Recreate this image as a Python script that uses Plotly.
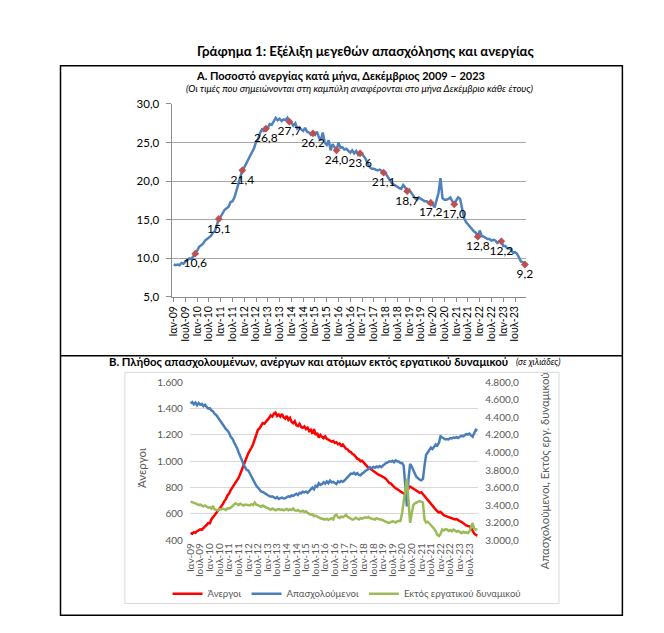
import plotly.graph_objects as go

W, H = 664, 633


def px(x):
    return x / W


def py(y):
    return 1 - y / H


# ---------------- data ----------------
years = list(range(2009, 2024))
tick_labels = []
for yy in years:
    tick_labels += ["Ιαν-%02d" % (yy % 100), "Ιουλ-%02d" % (yy % 100)]

# Panel A: unemployment rate (%), monthly Jan 2009 - Dec 2023
unemp_rate = [
    9.2, 9.1, 9.2, 9.1, 9.4, 9.3, 9.6, 9.8, 10.0, 9.9, 10.2, 10.6,
    11.0, 11.5, 11.7, 11.9, 12.3, 12.5, 12.7, 12.9, 13.3, 13.5, 14.3, 15.1,
    15.4, 15.9, 16.3, 16.5, 16.7, 17.3, 17.4, 17.9, 18.8, 19.6, 20.4, 21.4,
    21.8, 22.3, 22.9, 23.3, 23.7, 24.3, 25.1, 25.4, 26.2, 26.7, 26.5, 26.8,
    26.9, 27.4, 27.3, 27.8, 28.2, 27.9, 28.1, 27.8, 28.0, 27.9, 28.2, 27.7,
    27.6, 27.2, 27.5, 26.8, 27.0, 26.7, 26.5, 26.9, 26.4, 26.3, 26.0, 26.2,
    26.0, 26.4, 25.7, 25.3, 26.3, 25.0, 24.7, 25.3, 24.0, 24.8, 24.3, 24.0,
    25.0, 24.3, 24.4, 24.1, 24.2, 23.9, 23.7, 24.0, 23.6, 23.9, 23.4, 23.6,
    23.5, 23.2, 22.8, 22.2, 21.8, 21.6, 21.6, 21.5, 21.4, 21.5, 21.3, 21.1,
    21.0, 20.6, 20.1, 19.8, 19.6, 19.4, 19.3, 19.1, 19.0, 19.5, 19.2, 18.7,
    18.9, 18.5, 18.2, 17.8, 17.6, 17.9, 17.7, 17.5, 17.4, 17.4, 17.1, 17.2,
    17.0, 16.6, 17.4, 18.5, 20.4, 17.8, 17.6, 17.6, 17.7, 17.9, 17.4, 17.0,
    17.5, 17.9, 17.7, 16.5, 15.2, 14.7, 14.4, 14.0, 13.7, 13.5, 13.3, 12.8,
    13.6, 12.9, 12.8, 12.6, 12.5, 12.5, 12.3, 12.4, 12.3, 12.0, 12.2, 12.2,
    11.6, 11.6, 11.3, 11.3, 11.1, 10.7, 10.8, 10.6, 10.0, 9.6, 9.5, 9.2,
]

# Panel B (thousands)
unemployed = [
    455, 448, 460, 456, 468, 475, 482, 478, 495, 505, 515, 530,
    528, 560, 575, 590, 605, 620, 640, 655, 672, 695, 712, 740,
    755, 780, 800, 812, 830, 850, 875, 905, 940, 975, 1000, 1030,
    1060, 1090, 1105, 1130, 1170, 1210, 1240, 1250, 1275, 1290, 1285, 1300,
    1310, 1330, 1350, 1340, 1362, 1370, 1345, 1355, 1340, 1360, 1335, 1325,
    1345, 1315, 1330, 1300, 1290, 1305, 1275, 1268, 1285, 1260, 1255, 1265,
    1245, 1255, 1230, 1240, 1210, 1245, 1200, 1215, 1180, 1200, 1185, 1175,
    1190, 1170, 1165, 1160, 1150, 1155, 1140, 1145, 1130, 1135, 1118, 1128,
    1110, 1095, 1090, 1075, 1070, 1055, 1050, 1035, 1020, 1015, 1000, 1004,
    990, 975, 960, 950, 945, 935, 930, 920, 905, 900, 895, 890,
    885, 875, 865, 850, 835, 830, 815, 805, 795, 790, 780, 770,
    765, 755, 740, 770, 795, 808, 800, 790, 785, 775, 770, 760,
    765, 750, 735, 718, 705, 690, 670, 655, 640, 632, 620, 610,
    615, 600, 590, 585, 580, 575, 570, 565, 560, 557, 560, 550,
    545, 540, 530, 520, 512, 508, 505, 495, 470, 450, 440, 435,
]

employed = [
    4560, 4575, 4550, 4570, 4540, 4565, 4545, 4555, 4530, 4545, 4520, 4500,
    4505, 4480, 4470, 4440, 4428, 4400, 4380, 4350, 4330, 4300, 4270, 4250,
    4224, 4180, 4160, 4120, 4092, 4050, 4000, 3950, 3900, 3870, 3830, 3800,
    3795, 3760, 3720, 3680, 3650, 3620, 3600, 3570, 3555, 3550, 3535, 3530,
    3515, 3505, 3495, 3500, 3485, 3477, 3490, 3470, 3480, 3485, 3475, 3477,
    3490, 3500, 3495, 3510, 3505, 3520, 3530, 3515, 3540, 3535, 3552, 3545,
    3555, 3540, 3560, 3575, 3600, 3580, 3620, 3610, 3650, 3630, 3640, 3660,
    3645, 3670, 3650, 3680, 3660, 3665, 3650, 3640, 3670, 3660, 3675, 3665,
    3680, 3700, 3720, 3740, 3760, 3756, 3770, 3750, 3765, 3745, 3740, 3760,
    3770, 3790, 3800, 3810, 3832, 3820, 3835, 3825, 3840, 3832, 3845, 3832,
    3850, 3870, 3880, 3888, 3900, 3895, 3906, 3890, 3910, 3900, 3895, 3880,
    3880, 3850, 3650, 3384, 3700, 3869, 3840, 3790, 3757, 3720, 3700, 3690,
    3682, 3700, 3850, 3975, 4000, 4030, 4056, 4040, 4075, 4092, 4080, 4110,
    4186, 4175, 4160, 4149, 4155, 4150, 4165, 4160, 4170, 4167, 4175, 4165,
    4180, 4190, 4185, 4200, 4210, 4205, 4215, 4195, 4180, 4220, 4260, 4250,
]

inactive = [
    3440, 3435, 3425, 3420, 3410, 3400, 3405, 3390, 3385, 3395, 3380, 3370,
    3375, 3360, 3390, 3350, 3345, 3340, 3355, 3350, 3360, 3355, 3345, 3365,
    3360, 3370, 3385, 3400, 3421, 3410, 3400, 3415, 3400, 3395, 3405, 3400,
    3403, 3395, 3410, 3400, 3430, 3405, 3400, 3390, 3380, 3395, 3385, 3370,
    3365, 3350, 3347, 3360, 3345, 3340, 3350, 3355, 3345, 3350, 3340, 3347,
    3355, 3340, 3350, 3345, 3360, 3340, 3335, 3345, 3330, 3328, 3335, 3320,
    3330, 3310, 3300, 3290, 3295, 3272, 3280, 3265, 3260, 3250, 3245, 3240,
    3235, 3245, 3230, 3240, 3250, 3235, 3280, 3291, 3260, 3253, 3270, 3260,
    3272, 3290, 3265, 3250, 3245, 3235, 3240, 3255, 3245, 3235, 3250, 3245,
    3253, 3260, 3255, 3265, 3250, 3245, 3240, 3235, 3250, 3240, 3235, 3235,
    3225, 3215, 3210, 3200, 3197, 3205, 3215, 3210, 3200, 3215, 3216, 3220,
    3309, 3450, 3600, 3700, 3450, 3197, 3300, 3400, 3421, 3430, 3440, 3445,
    3440, 3430, 3235, 3200, 3210, 3190, 3179, 3150, 3130, 3100, 3060, 3047,
    3070, 3122, 3110, 3125, 3122, 3105, 3115, 3100, 3120, 3110, 3095, 3105,
    3090, 3080, 3095, 3085, 3090, 3080, 3100, 3160, 3197, 3130, 3120, 3125,
]

months = list(range(len(unemp_rate)))
dec_idx = months[11::12]
dec_vals = [unemp_rate[i] for i in dec_idx]
tick_pos = months[::6]

FONT = "Lato, 'Noto Sans', sans-serif"
GRAY = "#595959"

fig = go.Figure()

# ---- Panel A ----
fig.add_trace(go.Scatter(
    x=months, y=unemp_rate, mode="lines",
    line=dict(color="#4F81BD", width=2.5),
    xaxis="x", yaxis="y", showlegend=False, hoverinfo="skip"))
fig.add_trace(go.Scatter(
    x=dec_idx, y=dec_vals, mode="markers+text",
    marker=dict(symbol="diamond", size=6, color="#C0504D"),
    texttemplate="%{y:.1f}", textposition="bottom center",
    textfont=dict(family=FONT, size=12, color="#000000"),
    cliponaxis=False,
    xaxis="x", yaxis="y", showlegend=False, hoverinfo="skip"))

# ---- Panel B ----
fig.add_trace(go.Scatter(
    x=months, y=unemployed, mode="lines", name="Άνεργοι",
    line=dict(color="#FF0000", width=2.5), xaxis="x2", yaxis="y2"))
fig.add_trace(go.Scatter(
    x=months, y=employed, mode="lines", name="Απασχολούμενοι",
    line=dict(color="#4A7EBB", width=2.5), xaxis="x2", yaxis="y3"))
fig.add_trace(go.Scatter(
    x=months, y=inactive, mode="lines", name="Εκτός εργατικού δυναμικού",
    line=dict(color="#9BBB59", width=2.5), xaxis="x2", yaxis="y3"))

annotations = [
    dict(text="<b>Γράφημα 1: Εξέλιξη μεγεθών απασχόλησης και ανεργίας</b>",
         x=px(363), y=py(45), font=dict(size=13.3, color="#000")),
    dict(text="<b>Α. Ποσοστό ανεργίας κατά μήνα, Δεκέμβριος 2009 – 2023</b>",
         x=px(338), y=py(70), font=dict(size=11, color="#000")),
    dict(text="<i>(Οι τιμές που σημειώνονται στη καμπύλη αναφέρονται στο μήνα Δεκέμβριο κάθε έτους)</i>",
         x=px(357), y=py(83), font=dict(size=9.6, color="#000")),
    dict(text="<b>Β. Πλήθος απασχολουμένων, ανέργων και ατόμων εκτός εργατικού δυναμικού</b>",
         x=px(102), y=py(362), xanchor="left", font=dict(size=11.3, color="#000")),
    dict(text="<i>(σε χιλιάδες)</i>",
         x=px(513), y=py(362), xanchor="left", font=dict(size=8.8, color="#000")),
    dict(text="Άνεργοι", x=px(137), y=py(470), textangle=-90,
         font=dict(size=11.5, color=GRAY)),
    dict(text="Απασχολούμενοι, Εκτός εργ. δυναμικού", x=px(543), y=py(474),
         textangle=-90, font=dict(size=11.3, color=GRAY)),
]
for a in annotations:
    a.update(xref="paper", yref="paper", showarrow=False)
    a.setdefault("xanchor", "center")
    a.setdefault("yanchor", "middle")
    a["font"]["family"] = FONT

shapes = [
    dict(type="rect", x0=px(55), x1=px(622), y0=py(60), y1=py(621),
         line=dict(color="#000", width=1.5)),
    dict(type="line", x0=px(55), x1=px(622), y0=py(356), y1=py(356),
         line=dict(color="#000", width=1.5)),
    dict(type="rect", x0=px(120), x1=px(558), y0=py(373), y1=py(609),
         line=dict(color="#D9D9D9", width=1)),
]
for s in shapes:
    s.update(xref="paper", yref="paper", layer="below")

fig.update_layout(
    width=W, height=H, margin=dict(l=0, r=0, t=0, b=0),
    paper_bgcolor="white", plot_bgcolor="white",
    separators=",.",
    font=dict(family=FONT, color="#000"),
    annotations=annotations, shapes=shapes,
    xaxis=dict(domain=[px(168), px(525)], range=[-0.6, 179.7],
               tickvals=tick_pos, ticktext=tick_labels, tickangle=-90,
               showgrid=False, zeroline=False, showline=True,
               linecolor="#8C8C8C", linewidth=1, ticks="outside", ticklen=4,
               tickcolor="#8C8C8C", tickfont=dict(size=10.5, color="#000"),
               anchor="y", fixedrange=True),
    yaxis=dict(domain=[py(296), py(99)], range=[5, 30], dtick=5,
               tickformat=".1f", showgrid=True, gridcolor="#A6A6A6",
               gridwidth=1, zeroline=False, showline=True,
               linecolor="#8C8C8C", ticks="outside", ticklen=5,
               tickcolor="#8C8C8C", ticklabelstandoff=5,
               tickfont=dict(size=11.5, color="#000"), anchor="x"),
    xaxis2=dict(domain=[px(185.5), px(476.5)], range=[-0.5, 179.5],
                tickvals=tick_pos, ticktext=tick_labels, tickangle=-90,
                showgrid=False, zeroline=False, showline=False,
                tickfont=dict(size=10, color=GRAY), anchor="y2"),
    yaxis2=dict(domain=[py(544.3), py(383.3)], range=[400, 1600], dtick=200,
                tickformat=",d", showgrid=True, gridcolor="#D9D9D9",
                zeroline=False, showline=False, ticklabelstandoff=6,
                tickfont=dict(size=10, color=GRAY), anchor="x2"),
    yaxis3=dict(domain=[py(544.3), py(383.3)], range=[3000, 4800], dtick=200,
                tickformat=",.1f", showgrid=False, zeroline=False,
                showline=False, overlaying="y2", side="right",
                ticklabelstandoff=6,
                tickfont=dict(size=10, color=GRAY), anchor="x2"),
    legend=dict(orientation="h", x=px(163), y=py(599), xanchor="left",
                yanchor="middle", font=dict(size=9.6, color=GRAY),
                bgcolor="rgba(0,0,0,0)", itemwidth=30),
    showlegend=True,
)

fig.write_html("out.html", config={"displayModeBar": False},
               post_script="document.body.style.margin='0';document.body.style.overflow='hidden';")
